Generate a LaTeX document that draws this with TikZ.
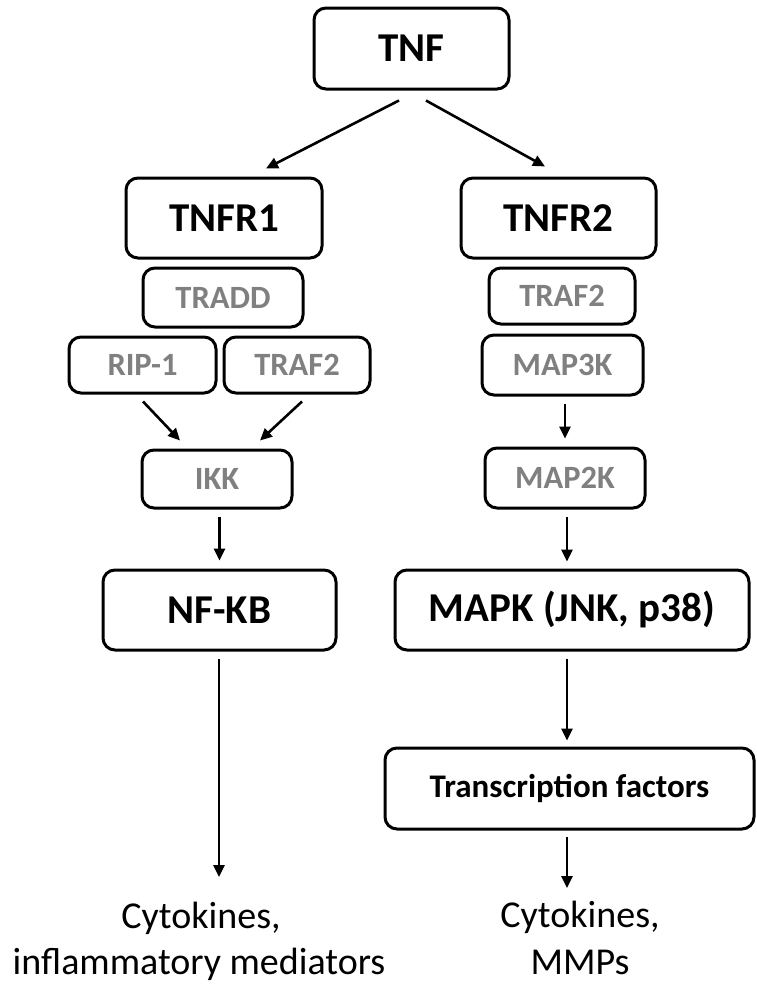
\documentclass[tikz,border=0pt]{standalone}
\usepackage{fontspec}
\setmainfont{Carlito}
\usetikzlibrary{arrows.meta,calc}
\definecolor{subgray}{RGB}{128,128,128}
\begin{document}
\begin{tikzpicture}[x=1pt,y=1pt]
\tikzset{
 box/.style={draw, line width=3pt, rounded corners=12pt, inner sep=0pt, fill=white,
   font=\bfseries\fontsize{41}{49}\selectfont},
 subbox/.style={box, text=subgray, font=\bfseries\fontsize{32.5}{39}\selectfont},
 tfbox/.style={box, font=\bfseries\fontsize{33}{40}\selectfont},
 arr/.style={line width=2.6pt, -{Triangle[length=12pt,width=11pt]}},
 outtxt/.style={anchor=base, inner sep=0pt, font=\fontsize{38}{46}\selectfont},
}
\useasboundingbox[fill=white] (0,0) rectangle (756,-985);

% main boxes
\node[box, minimum width=195pt, minimum height=81pt] (tnf) at (411.5,-48.5) {TNF};
\node[box, minimum width=196pt, minimum height=80pt] (tnfr1) at (224,-218) {TNFR1};
\node[box, minimum width=195pt, minimum height=80pt] (tnfr2) at (558.5,-218) {TNFR2};

% left branch
\node[subbox, minimum width=160pt, minimum height=59pt] (tradd) at (223,-297.5) {TRADD};
\node[subbox, minimum width=147pt, minimum height=56pt] (rip) at (142.5,-365) {RIP-1};
\node[subbox, minimum width=146pt, minimum height=56pt] (trafl) at (297,-365) {TRAF2};
\node[subbox, minimum width=150pt, minimum height=58pt] (ikk) at (217,-479) {IKK};
\node[box, minimum width=233pt, minimum height=80pt] (nfkb) at (219.5,-610) {NF-KB};

% right branch
\node[subbox, minimum width=146pt, minimum height=56pt] (trafr) at (562,-296) {TRAF2};
\node[subbox, minimum width=161pt, minimum height=60pt] (map3k) at (562.5,-365) {MAP3K};
\node[subbox, minimum width=160pt, minimum height=60pt] (map2k) at (565,-478) {MAP2K};
\node[box, minimum width=354pt, minimum height=80pt] (mapk) at (572,-610) {MAPK (JNK, p38)};
\node[tfbox, minimum width=369pt, minimum height=81pt] (tf) at (569.5,-788.5) {\raisebox{5pt}{Transcription factors}};

% outputs
\node[outtxt] (l1) at (201,-928) {Cytokines,};
\node[outtxt] (l2) at (199,-974) {inflammatory mediators};
\node[outtxt] (r1) at (580,-927) {Cytokines,};
\node[outtxt] (r2) at (580,-974) {MMPs};
\coordinate (la) at (219,-877);
\coordinate (ra) at (567,-888);

% connectors
\draw[arr] ([xshift=-12.5pt,yshift=-10pt]tnf.south) -- ([xshift=42pt,yshift=8pt]tnfr1.north);
\draw[arr] ([xshift=14.5pt,yshift=-10pt]tnf.south) -- ([xshift=-13.5pt,yshift=10pt]tnfr2.north);
\draw[arr] ([xshift=0.5pt,yshift=-7pt]rip.south) -- ([xshift=-37pt,yshift=8pt]ikk.north);
\draw[arr] ([xshift=5pt,yshift=-7pt]trafl.south) -- ([xshift=43pt,yshift=8pt]ikk.north);
\draw[arr, shorten <=7pt, shorten >=8pt] (ikk.south -| nfkb.north) -- (nfkb.north);
\draw[arr, shorten <=7pt] (nfkb.south -| la) -- (la);
\draw[arr, shorten <=7pt, shorten >=8pt] (map3k.south -| map2k.north) -- (map2k.north);
\draw[arr, shorten <=7pt, shorten >=7pt] ([xshift=2pt]map2k.south) -- ([xshift=2pt]map2k.south |- mapk.north);
\draw[arr, shorten <=7pt, shorten >=6pt] ([xshift=-5pt]mapk.south) -- ([xshift=-5pt]mapk.south |- tf.north);
\draw[arr, shorten <=6pt] (tf.south -| ra) -- (ra);
\end{tikzpicture}
\end{document}
